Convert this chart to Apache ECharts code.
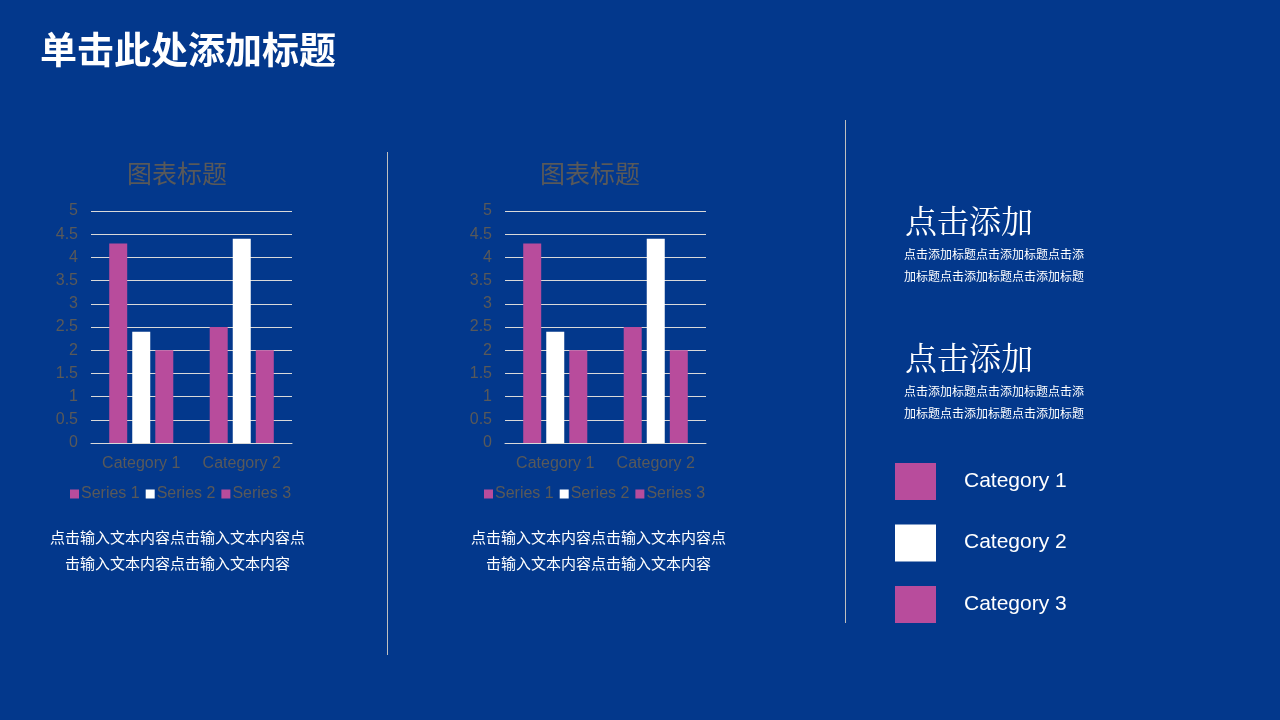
<!DOCTYPE html>
<html>
<head>
<meta charset="utf-8">
<script src="https://cdn.jsdelivr.net/npm/echarts@6/dist/echarts.min.js"></script>
<style>
html,body{margin:0;padding:0;background:#03388C;}
#c{width:1280px;height:720px;}
</style>
</head>
<body>
<div id="c"></div>
<script>
const categories = ['Category 1', 'Category 2'];
const seriesNames = ['Series 1', 'Series 2', 'Series 3'];
const series1 = [4.3, 2.5];
const series2 = [2.4, 4.4];
const series3 = [2, 2];
const yTicks = [0, 0.5, 1, 1.5, 2, 2.5, 3, 3.5, 4, 4.5, 5];
const sideCategories = ['Category 1', 'Category 2', 'Category 3'];
const chartTitle = '图表标题';
const pageTitle = '单击此处添加标题';
const caption = ['点击输入文本内容点击输入文本内容点', '击输入文本内容点击输入文本内容'];
const sideHead = '点击添加';
const sideBody = ['点击添加标题点击添加标题点击添', '加标题点击添加标题点击添加标题'];

const PINK = '#B84C9C', WHITE = '#FFFFFF', GRAY = '#595959';
const seriesColors = [PINK, WHITE, PINK];
const seriesData = [series1, series2, series3];
const sideColors = [PINK, WHITE, PINK];

const chart = echarts.init(document.getElementById('c'));
const grids = [
  {left: 91, top: 211, width: 201, height: 232},
  {left: 505, top: 211, width: 201, height: 232}
];
const titleX = [177, 590];
const captionX = [177.5, 598.5];

const font = 'Arial, "Liberation Sans", "Noto Sans CJK SC", sans-serif';

const xAxes = [], yAxes = [], series = [], legends = [];
grids.forEach((g, gi) => {
  xAxes.push({
    type: 'category', gridIndex: gi, data: categories,
    axisLine: {lineStyle: {color: '#D9D9D9', width: 1}},
    axisTick: {show: false},
    axisLabel: {color: GRAY, fontSize: 16, margin: 13, interval: 0, fontFamily: font}
  });
  yAxes.push({
    type: 'value', gridIndex: gi, min: 0, max: 5, interval: 0.5,
    axisLine: {show: false}, axisTick: {show: false},
    splitLine: {lineStyle: {color: '#D9D9D9', width: 1}},
    axisLabel: {color: GRAY, fontSize: 16, margin: 13, fontFamily: font, padding: [3, 0, 0, 0]}
  });
  seriesData.forEach((d, si) => {
    series.push({
      type: 'bar', name: seriesNames[si], xAxisIndex: gi, yAxisIndex: gi,
      data: d, barWidth: 18, barGap: '28%',
      itemStyle: {color: seriesColors[si]}
    });
  });
  legends.push({
    data: seriesNames, left: g.left - 26, top: 481,
    itemWidth: 9, itemHeight: 9, itemGap: 6, icon: 'rect',
    textStyle: {color: GRAY, fontSize: 16, fontFamily: font, padding: [0, 0, 0, -3]},
    selectedMode: false
  });
});

const graphics = [];
// chart titles
titleX.forEach(tx => {
  graphics.push({type: 'text', x: tx, y: 173,
    style: {text: chartTitle, fill: GRAY, font: '25px "Noto Sans CJK SC", sans-serif', textAlign: 'center', textVerticalAlign: 'middle'}});
});
// page title
graphics.push({type: 'text', x: 40, y: 50,
  style: {text: pageTitle, fill: '#FFFFFF', font: 'bold 37px "Noto Sans CJK SC", sans-serif', textAlign: 'left', textVerticalAlign: 'middle'}});
// dividers
graphics.push({type: 'line', shape: {x1: 387.5, y1: 152, x2: 387.5, y2: 655}, style: {stroke: '#BFBFBF', lineWidth: 1}});
graphics.push({type: 'line', shape: {x1: 845.5, y1: 120, x2: 845.5, y2: 623}, style: {stroke: '#BFBFBF', lineWidth: 1}});
// captions
captionX.forEach(cx => {
  caption.forEach((t, i) => {
    graphics.push({type: 'text', x: cx, y: 537 + i * 26,
      style: {text: t, fill: '#FFFFFF', font: '15px "Noto Sans CJK SC", sans-serif', textAlign: 'center', textVerticalAlign: 'middle'}});
  });
});
// side headers
[221, 358].forEach(hy => {
  graphics.push({type: 'text', x: 905, y: hy,
    style: {text: sideHead, fill: '#FFFFFF', font: '32px "Noto Serif CJK SC", "Noto Sans CJK SC", serif', textAlign: 'left', textVerticalAlign: 'middle'}});
  sideBody.forEach((t, i) => {
    graphics.push({type: 'text', x: 904, y: hy + 33 + i * 22,
      style: {text: t, fill: '#FFFFFF', font: '12px "Noto Sans CJK SC", sans-serif', textAlign: 'left', textVerticalAlign: 'middle'}});
  });
});
// side legend
sideCategories.forEach((c, i) => {
  const y = 463 + i * 61.5;
  graphics.push({type: 'rect', shape: {x: 895, y: y, width: 41, height: 37}, style: {fill: sideColors[i]}});
  graphics.push({type: 'text', x: 964, y: y + 18,
    style: {text: c, fill: '#FFFFFF', font: '21px Arial, "Liberation Sans", sans-serif', textAlign: 'left', textVerticalAlign: 'middle'}});
});

chart.setOption({
  backgroundColor: '#03388C',
  animation: false,
  legend: legends,
  grid: grids,
  xAxis: xAxes,
  yAxis: yAxes,
  series: series,
  graphic: graphics
});
</script>
</body>
</html>
